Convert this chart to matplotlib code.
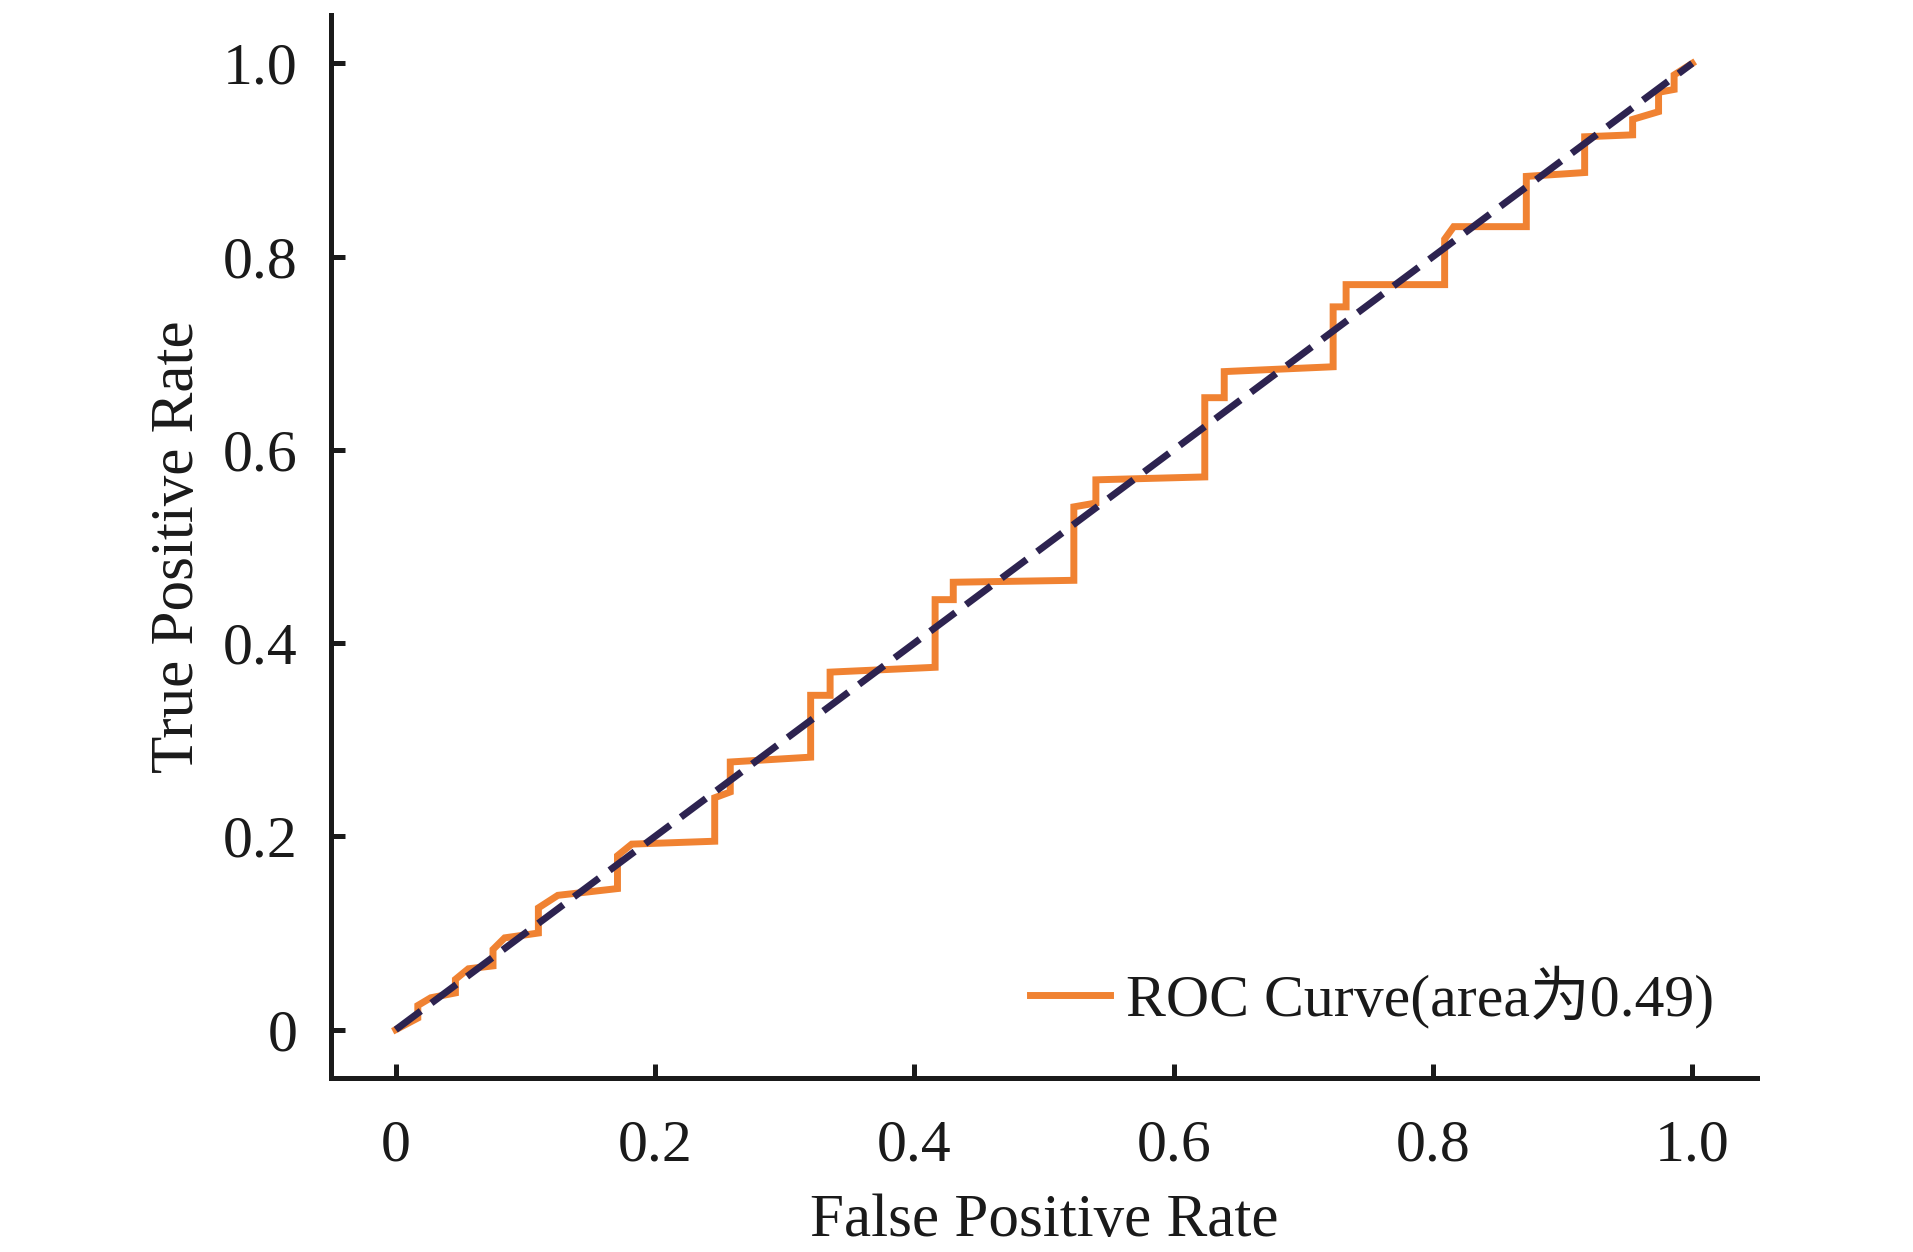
import matplotlib
matplotlib.use("Agg")
import matplotlib.pyplot as plt

plt.rcParams['font.family'] = ['Liberation Serif', 'Noto Sans CJK SC', 'DejaVu Sans']

# ROC curve vertices
fpr = [0.0, 0.017, 0.017, 0.027, 0.046, 0.046, 0.056, 0.075, 0.075, 0.084,
       0.110, 0.110, 0.125, 0.171, 0.171, 0.182, 0.246, 0.246, 0.258, 0.258,
       0.320, 0.320, 0.335, 0.335, 0.416, 0.416, 0.430, 0.430, 0.523, 0.523,
       0.540, 0.540, 0.624, 0.624, 0.639, 0.639, 0.723, 0.723, 0.733, 0.733,
       0.809, 0.809, 0.816, 0.872, 0.872, 0.917, 0.917, 0.954, 0.954, 0.974,
       0.974, 0.986, 0.986, 1.0]
tpr = [0.0, 0.012, 0.025, 0.033, 0.038, 0.052, 0.063, 0.066, 0.083, 0.095,
       0.100, 0.126, 0.139, 0.146, 0.180, 0.192, 0.195, 0.240, 0.246, 0.277,
       0.282, 0.346, 0.346, 0.370, 0.375, 0.445, 0.445, 0.463, 0.465, 0.541,
       0.545, 0.569, 0.572, 0.654, 0.654, 0.681, 0.686, 0.748, 0.748, 0.771,
       0.771, 0.818, 0.831, 0.831, 0.883, 0.887, 0.924, 0.926, 0.942, 0.950,
       0.970, 0.973, 0.988, 1.0]

diag = [0.0, 1.0]
ticks = [0.0, 0.2, 0.4, 0.6, 0.8, 1.0]
tick_labels = ['0', '0.2', '0.4', '0.6', '0.8', '1.0']
legend_label = 'ROC Curve(area为0.49)'

fig = plt.figure(figsize=(19.13, 12.52), dpi=100)
ax = fig.add_axes([0.173, 0.139, 0.9185 - 0.173, 0.988 - 0.139])

ax.plot(fpr, tpr, color='#F08232', lw=5.0, label=legend_label, zorder=2,
        solid_joinstyle='miter')
ax.plot(diag, diag, color='#2D2350', lw=5.0, linestyle=(0, (4.5, 1.9)), zorder=3)

ax.set_xlim(-0.05, 1.05)
ax.set_ylim(-0.05, 1.05)
ax.set_xticks(ticks)
ax.set_xticklabels(tick_labels)
ax.set_yticks(ticks)
ax.set_yticklabels(tick_labels)

for s in ['top', 'right']:
    ax.spines[s].set_visible(False)
for s in ['left', 'bottom']:
    ax.spines[s].set_linewidth(3.6)
    ax.spines[s].set_color('#1a1a1a')

ax.tick_params(axis='both', direction='in', length=10, width=3.6, colors='#1a1a1a',
               labelsize=43)
ax.tick_params(axis='x', pad=30)
ax.tick_params(axis='y', pad=24)

ax.set_xlabel('False Positive Rate', fontsize=44, labelpad=14, color='#1a1a1a')
ax.set_ylabel('True Positive Rate', fontsize=44, labelpad=12, color='#1a1a1a')

leg = ax.legend(loc='center left', bbox_to_anchor=(0.49, 0.0762), frameon=False,
                fontsize=43, borderpad=0, borderaxespad=0, handlelength=1.35,
                handletextpad=0.26)
for t in leg.get_texts():
    t.set_color('#1a1a1a')

fig.savefig('out.png', dpi=100)
